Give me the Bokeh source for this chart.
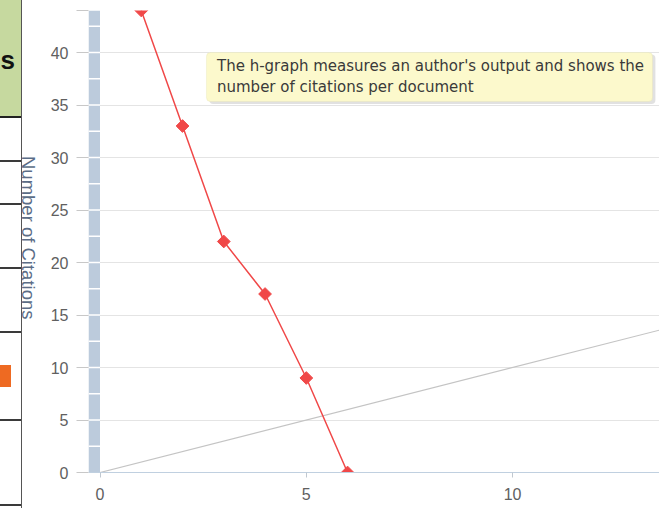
import math
import numpy as np
from bokeh.plotting import figure
from bokeh.models import Range1d, FixedTicker, Label, BoxAnnotation, Div
from bokeh.layouts import row
from bokeh.embed import file_html
from bokeh.resources import INLINE

# ---- data ----
documents = [1, 2, 3, 4, 5, 6]
citations = [44, 33, 22, 17, 9, 0]
diag_x = [0, 14]
diag_y = [0, 14]
y_ticks = [0, 5, 10, 15, 20, 25, 30, 35, 40, 44]
x_ticks = [0, 5, 10]
y_label = "Number of Citations"
tooltip_text = "The h-graph measures an author's output and shows the\nnumber of citations per document"
table_header = "s"

X0, X1 = -0.279, 13.56
Y0, Y1 = 0, 44
LEFT_W = 42

p = figure(width=659 - LEFT_W, height=508, x_range=Range1d(X0, X1), y_range=Range1d(Y0, Y1),
           output_backend="svg", toolbar_location=None,
           min_border_left=88 - LEFT_W, min_border_right=0, min_border_top=10, min_border_bottom=36)
p.outline_line_color = None
p.background_fill_color = "white"
p.border_fill_color = "white"

# grid
p.xgrid.visible = False
p.ygrid.ticker = FixedTicker(ticks=y_ticks)
p.ygrid.grid_line_color = "#e4e4e4"
p.ygrid.grid_line_width = 1

# x axis
xa = p.xaxis[0]
xa.ticker = FixedTicker(ticks=x_ticks)
xa.axis_line_color = "#c0d0e0"
xa.major_tick_line_color = "#c0c8d0"
xa.major_tick_out = 5
xa.major_tick_in = 0
xa.minor_tick_line_color = None
xa.major_label_standoff = 10
xa.major_label_text_font = "Liberation Sans"
xa.major_label_text_font_size = "16px"
xa.major_label_text_color = "#606060"

# y axis
ya = p.yaxis[0]
ya.ticker = FixedTicker(ticks=y_ticks)
ya.axis_line_color = None
ya.major_tick_line_color = "#c8c8c8"
ya.major_tick_out = 12
ya.major_tick_in = 0
ya.minor_tick_line_color = None
ya.major_label_standoff = 8
ya.major_label_text_font = "Liberation Sans"
ya.major_label_text_font_size = "16px"
ya.major_label_text_color = "#606060"
ya.major_label_overrides = {44: ""}

# axis band (left of x=0)
p.quad(left=[X0], right=[0], bottom=[Y0], top=[Y1], fill_color="#bccbdc", line_color=None)
band_sep = np.arange(2.5, 44, 2.5)
p.segment(x0=X0, x1=0, y0=band_sep, y1=band_sep, line_color="white", line_width=1.5)

# reference diagonal and h-graph line
p.line(diag_x, diag_y, line_color="#c4c4c4", line_width=1.2)
p.line(documents, citations, line_color="#f04848", line_width=1.5)
p.scatter(documents, citations, marker="square", angle=math.pi / 4, size=9,
          fill_color="#f04848", line_color="#f04848")

# tooltip
p.add_layout(BoxAnnotation(left=2.65, right=13.46, top=39.8, bottom=35.1,
                           fill_color="#888888", fill_alpha=0.25, line_color=None,
                           border_radius=4))
p.add_layout(BoxAnnotation(left=2.58, right=13.39, top=40.0, bottom=35.33,
                           fill_color="#fcf9cc", fill_alpha=1.0, line_color="#e2deb0",
                           line_width=1, border_radius=4))
p.add_layout(Label(x=2.835, y=39.55, text=tooltip_text, text_align="left",
                   text_baseline="top", text_font="DejaVu Sans", text_font_size="15px",
                   text_color="#3a3a3a", text_line_height=1.17))

# left table fragment + vertical axis title
lines_y = [160, 203, 267, 331, 419, 504]
hl = "".join(
    f'<div style="position:absolute;left:0;top:{y}px;width:21px;height:1.5px;background:#3a3a3a;"></div>'
    for y in lines_y)
left_html = (
    f'<div style="position:relative;width:{LEFT_W}px;height:508px;overflow:hidden;'
    'font-family:\'Liberation Sans\',Arial,sans-serif;background:white;">'
    '<div style="position:absolute;left:0;top:0;width:21px;height:116px;background:#c6d99f;"></div>'
    f'<div style="position:absolute;left:0;top:47px;width:15px;text-align:right;font-weight:bold;'
    f'font-size:26px;line-height:26px;color:#111;white-space:nowrap;">{table_header}</div>'
    '<div style="position:absolute;left:0;top:116px;width:21px;height:2px;background:#222;"></div>'
    + hl +
    '<div style="position:absolute;left:0;top:365px;width:11px;height:22px;background:#ee6a22;"></div>'
    '<div style="position:absolute;left:20.5px;top:0;width:1.5px;height:508px;background:#555;"></div>'
    '<div style="position:absolute;left:18px;top:7px;width:20px;height:462px;'
    'writing-mode:vertical-rl;text-align:center;line-height:20px;font-size:18.5px;'
    f'color:#5b6d87;white-space:nowrap;">{y_label}</div>'
    '</div>'
)
div = Div(text=left_html, width=LEFT_W, height=508, margin=0)

layout = row(div, p, spacing=0)

open("out.html", "w").write(file_html(layout, INLINE))
